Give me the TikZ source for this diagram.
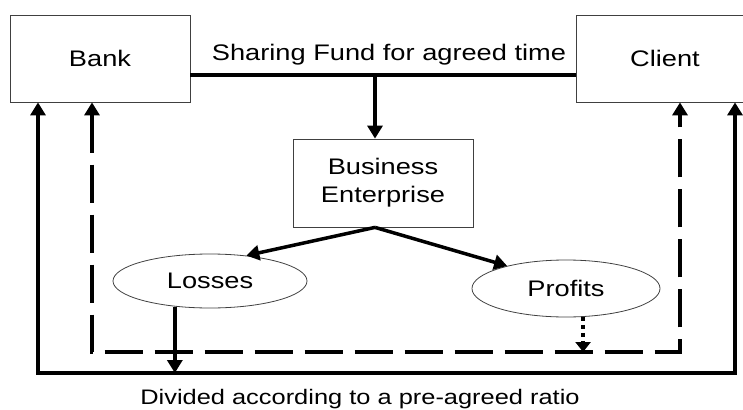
\documentclass[tikz,border=0pt]{standalone}
\usepackage{fontspec}
\setmainfont{Liberation Sans}[FakeStretch=1.21]
\usetikzlibrary{shapes,arrows.meta}

\begin{document}
\begin{tikzpicture}[x=1pt,y=-1pt,
  font=\fontsize{22.5}{28}\selectfont,
  box/.style={draw=black!75, line width=0.8pt, minimum width=180pt,
    minimum height=87pt, inner sep=0pt},
  oval/.style={ellipse, draw=black!75, line width=0.8pt, inner sep=0pt},
  tip/.style={-{Triangle[width=15pt,length=13pt]}},
  flow/.style={line width=3.5pt, tip},
  back/.style={line width=3.5pt, dash pattern=on 38pt off 12pt,
    {Triangle[width=15pt,length=13pt]}-{Triangle[width=15pt,length=13pt]}},
  hint/.style={line width=3.5pt, dash pattern=on 4pt off 4pt,
    -{Triangle[width=15pt,length=10pt]}}]
\useasboundingbox (0,0) rectangle (743,409);
%
\node[box] (bank) at (100,58.5) {Bank};
\node[box, minimum width=178pt] (client) at (665,58.5) {Client};
\node[box, minimum height=88pt, align=center] (firm) at (383,183) {Business\\Enterprise};
\node[oval, minimum width=194pt, minimum height=54pt] (loss) at (210,281) {Losses};
\node[oval, minimum width=188pt, minimum height=57pt] (profit) at (566,288.5) {Profits};
\node[anchor=base] (share) at (389,61) {Sharing Fund for agreed time};
\node[anchor=base, font=\fontsize{21}{26}\selectfont] (ratio) at (360,404) {Divided according to a pre-agreed ratio};
%
\coordinate (fork) at (375,75);
\coordinate (sl) at (38,373);
\coordinate (sr) at (735,373);
\coordinate (dl) at (92,352);
\coordinate (dr) at (680,352);
%
\draw[line width=3.5pt] (bank.east |- fork) -- (client.west |- fork);
\draw[flow] (fork) -- (firm.north -| fork);
\draw[flow] (firm.south -| fork) -- (loss.35);
\draw[flow] (firm.south -| fork) -- (profit.159);
\draw[flow] (loss.216) -- (loss.216 |- sl);
\draw[hint] (profit.301) -- (profit.301 |- dl);
%
\draw[flow] (sr) -- (sl) -- (sl |- bank.south);
\draw[flow] (sl) -- (sr) -- (sr |- client.south);
\draw[back] (dl |- bank.south) -- (dl) -- (dr) -- (dr |- client.south);
\end{tikzpicture}
\end{document}
